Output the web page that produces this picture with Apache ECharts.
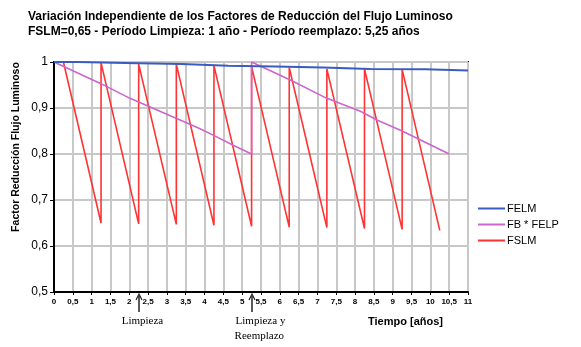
<!DOCTYPE html>
<html>
<head>
<meta charset="utf-8">
<script src="https://cdn.jsdelivr.net/npm/echarts@6/dist/echarts.min.js"></script>
<style>
  html, body { margin: 0; padding: 0; background: #fff; }
  #chart { width: 581px; height: 347px; }
</style>
</head>
<body>
<div id="chart"></div>
<script>
// FELM: lamp lumen maintenance, constant between steps (value holds from time[i] to time[i+1])
const felmTimes  = [0, 0.64, 1.89, 3.39, 4.63, 5.88, 7.15, 8.4, 9.87, 11];
const felmValues = [1, 0.998, 0.9955, 0.992, 0.990, 0.988, 0.985, 0.984, 0.9815, 0.9815];

// FB * FELP: two replacement periods of 5,25 years
const fbFelpTimes  = [0, 1.22, 2.02, 3.35, 3.88, 4.23, 4.76, 5.25, 5.25, 6.28, 7.25, 8.14, 8.58, 9.25, 10.5];
const fbFelpValues = [1, 0.954, 0.921, 0.874, 0.855, 0.841, 0.819, 0.80, 1, 0.961, 0.921, 0.893, 0.874, 0.85, 0.80];

// FSLM: sawtooth, cleaning every year starting at 0,25
const cleaningTimes = [0.25, 1.25, 2.25, 3.25, 4.25, 5.25, 6.25, 7.25, 8.25, 9.25];
const fslmTop    = [1, 0.998, 0.9955, 0.9955, 0.992, 0.990, 0.988, 0.985, 0.985, 0.984];
const fslmBottom = [0.650, 0.648, 0.647, 0.645, 0.643, 0.641, 0.640, 0.638, 0.636, 0.634];

const xTicks = [0, 0.5, 1, 1.5, 2, 2.5, 3, 3.5, 4, 4.5, 5, 5.5, 6, 6.5, 7, 7.5, 8, 8.5, 9, 9.5, 10, 10.5, 11];
const yTicks = [0.5, 0.6, 0.7, 0.8, 0.9, 1];

const seriesNames = ['FELM', 'FB * FELP', 'FSLM'];

function pairs(xs, ys) { return xs.map((x, i) => [x, ys[i]]); }

const fslmData = [[0, 1]];
cleaningTimes.forEach((t, i) => {
  fslmData.push([t, fslmTop[i]]);
  fslmData.push([t + 1, fslmBottom[i]]);
});

const comma = v => String(+v.toFixed(2)).replace('.', ',');

const chart = echarts.init(document.getElementById('chart'), null, { renderer: 'canvas' });

const option = {
  backgroundColor: '#ffffff',
  animation: false,
  title: {
    text: 'Variación Independiente de los Factores de Reducción del Flujo Luminoso\nFSLM=0,65 - Período Limpieza: 1 año - Período reemplazo: 5,25 años',
    left: 23, top: 4,
    textStyle: { fontFamily: 'Liberation Sans', fontWeight: 'bold', fontSize: 12, lineHeight: 15, color: '#000' }
  },
  legend: {
    data: seriesNames,
    orient: 'vertical',
    left: 473, top: 198,
    itemWidth: 27, itemHeight: 2, itemGap: 5,
    icon: 'rect',
    textStyle: { fontFamily: 'Liberation Sans', fontSize: 11, color: '#000', padding: [0, 0, 0, -3] }
  },
  grid: {
    left: 54, right: 113, top: 62, bottom: 55,
    show: true, borderColor: '#000', borderWidth: 2, backgroundColor: '#fff'
  },
  xAxis: {
    type: 'value', min: 0, max: 11, interval: 0.5,
    axisLine: { show: true, lineStyle: { color: '#000', width: 2 } },
    axisTick: { show: true, length: 3, lineStyle: { color: '#000' } },
    axisLabel: { fontFamily: 'Liberation Sans', fontWeight: 'bold', fontSize: 8, color: '#000', margin: 6,
                 formatter: v => comma(v) },
    splitLine: { show: true, lineStyle: { color: '#c8c8c8', width: 2 } }
  },
  yAxis: {
    type: 'value', min: 0.5, max: 1, interval: 0.1,
    axisLine: { show: true, lineStyle: { color: '#000', width: 2 } },
    axisTick: { show: true, length: 4, lineStyle: { color: '#000' } },
    axisLabel: { fontFamily: 'Liberation Sans', fontSize: 12, color: '#000', margin: 6,
                 formatter: v => comma(v) },
    splitLine: { show: true, lineStyle: { color: '#c8c8c8', width: 2 } }
  },
  series: [
    {
      name: 'FELM', type: 'line', step: 'end', showSymbol: false, z: 5,
      data: pairs(felmTimes, felmValues),
      lineStyle: { color: '#3a5cc0', width: 2 }, itemStyle: { color: '#3a5cc0' }
    },
    {
      name: 'FB * FELP', type: 'line', showSymbol: false, z: 4,
      data: pairs(fbFelpTimes, fbFelpValues),
      lineStyle: { color: '#cc66cc', width: 1.6 }, itemStyle: { color: '#cc66cc' }
    },
    {
      name: 'FSLM', type: 'line', showSymbol: false, z: 3,
      data: fslmData,
      lineStyle: { color: '#ff3333', width: 1.6 }, itemStyle: { color: '#ff3333' }
    }
  ]
};
chart.setOption(option);

// Annotations below the axis: arrows pointing at the cleaning / replacement instants
function arrow(t) {
  const p = chart.convertToPixel({ gridIndex: 0 }, [t, 0.5]);
  const x = Math.round(p[0]);
  const tip = p[1] + 2;
  return [
    { type: 'line', shape: { x1: x, y1: tip + 2, x2: x, y2: tip + 18 }, style: { stroke: '#222', lineWidth: 1.5 } },
    { type: 'polyline', shape: { points: [[x - 3, tip + 6], [x, tip], [x + 3, tip + 6]] }, style: { stroke: '#222', lineWidth: 1.2, fill: null } }
  ];
}
const pClean = chart.convertToPixel({ gridIndex: 0 }, [2.25, 0.5]);
const pRepl = chart.convertToPixel({ gridIndex: 0 }, [5.25, 0.5]);

chart.setOption({
  graphic: [
    ...arrow(2.25),
    ...arrow(5.25),
    { type: 'text', x: pClean[0] - 17, y: 321, style: { text: 'Limpieza', font: '11px "Liberation Serif"', fill: '#000', align: 'left', verticalAlign: 'middle' } },
    { type: 'text', x: pRepl[0] - 16, y: 321, style: { text: 'Limpieza y', font: '11px "Liberation Serif"', fill: '#000', align: 'left', verticalAlign: 'middle' } },
    { type: 'text', x: pRepl[0] - 17, y: 336, style: { text: 'Reemplazo', font: '11px "Liberation Serif"', fill: '#000', align: 'left', verticalAlign: 'middle' } },
    { type: 'text', x: 368, y: 322, style: { text: 'Tiempo [años]', font: 'bold 11px "Liberation Sans"', fill: '#000', align: 'left', verticalAlign: 'middle' } },
    { type: 'text', x: 16, y: 147, rotation: Math.PI / 2, style: { text: 'Factor Reducción Flujo Luminoso', font: 'bold 10.5px "Liberation Sans"', fill: '#000', align: 'center', verticalAlign: 'middle' } }
  ]
});
</script>
</body>
</html>
